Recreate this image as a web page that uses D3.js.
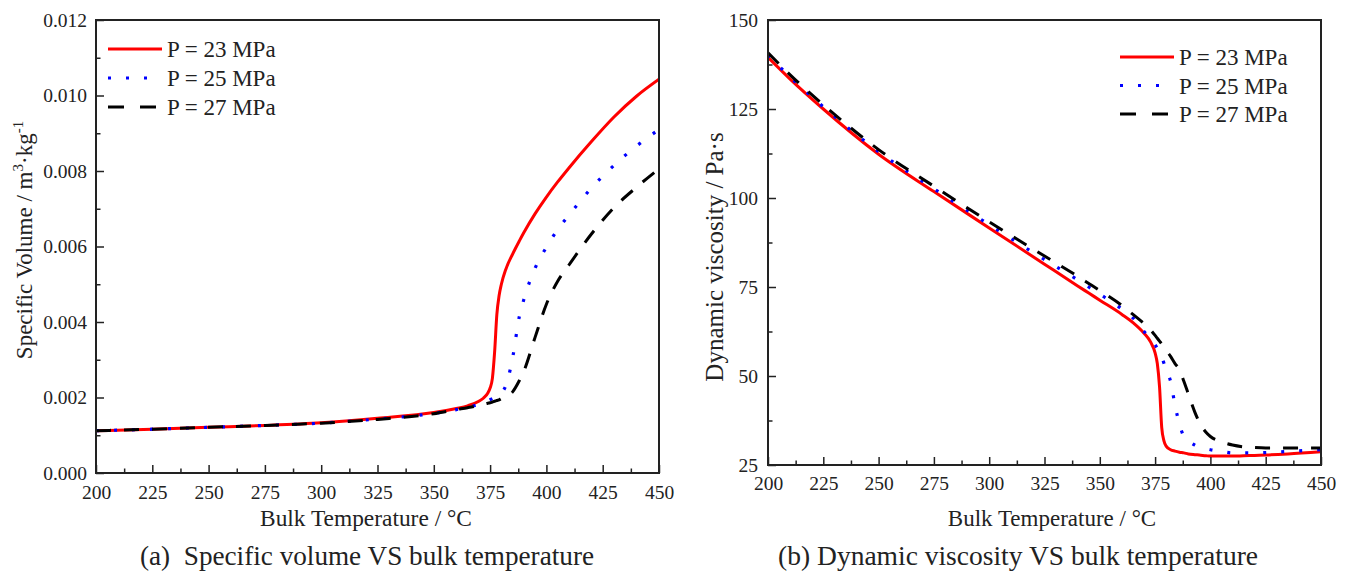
<!DOCTYPE html>
<html>
<head>
<meta charset="utf-8">
<script src="https://cdn.jsdelivr.net/npm/d3@7"></script>
<style>
  html, body { margin: 0; padding: 0; background: #ffffff; }
  svg { display: block; }
  text { font-family: "Liberation Serif", "Times New Roman", serif; fill: #222; }
</style>
</head>
<body>
<svg id="chart" width="1347" height="571"></svg>
<script>
// ---------------- DATA ----------------
const seriesNames = ["P = 23 MPa", "P = 25 MPa", "P = 27 MPa"];
const xTicks = [200, 225, 250, 275, 300, 325, 350, 375, 400, 425, 450];
const volTicks = [0, 0.002, 0.004, 0.006, 0.008, 0.010, 0.012];
const viscTicks = [25, 50, 75, 100, 125, 150];

// (a) specific volume
const tempsA = [200,225,250,275,300,325,350,360,365,370,372,374,375,376,377,378,379,380,382,385,388,390,395,400,405,410,420,430,440,450];
const vol23 = [0.00112,0.00116,0.00121,0.00126,0.00133,0.00145,0.00160,0.00171,0.00178,0.00190,0.00198,0.00212,0.00225,0.00250,0.00320,0.00420,0.00470,0.00500,0.00540,0.00580,0.00615,0.00637,0.00687,0.00731,0.00771,0.00808,0.00878,0.00943,0.00998,0.01043];
const vol25 = [0.00112,0.00116,0.00121,0.00126,0.00132,0.00143,0.00158,0.00168,0.00174,0.00182,0.00186,0.00191,0.00194,0.00197,0.00200,0.00203,0.00207,0.00212,0.00232,0.00305,0.00415,0.00460,0.00543,0.00598,0.00645,0.00683,0.00755,0.00815,0.00866,0.00910];
const vol27 = [0.00112,0.00116,0.00121,0.00126,0.00132,0.00142,0.00157,0.00168,0.00173,0.00179,0.00182,0.00185,0.00186,0.00188,0.00190,0.00192,0.00194,0.00197,0.00202,0.00215,0.00245,0.00270,0.00360,0.00447,0.00508,0.00551,0.00633,0.00703,0.00757,0.00806];

// (b) dynamic viscosity
const tempsB = [200,210,225,250,275,300,325,340,345,350,360,365,370,373,375,376,377,378,379,380,382,384,386,388,390,393,395,398,400,405,410,415,420,425,435,450];
const visc23 = [139.5,133.4,125.0,112.3,101.8,91.6,81.4,75.3,73.3,71.3,67.3,65.0,62.0,59.5,56.5,53.5,47.0,35.5,31.8,30.3,29.3,28.9,28.6,28.4,28.1,27.9,27.8,27.6,27.5,27.5,27.5,27.6,27.7,27.8,28.1,28.7];
const visc25 = [140.2,134.0,125.6,113.0,102.6,92.5,82.7,77.0,75.0,73.0,68.8,66.3,62.5,60.4,58.8,57.8,56.7,55.3,53.6,51.8,48.5,41.8,36.5,33.0,31.8,30.6,30.1,29.6,29.3,28.8,28.4,28.4,28.4,28.5,28.8,29.3];
const visc27 = [140.8,134.6,126.2,113.6,103.3,93.3,83.7,78.0,76.0,74.0,69.8,67.3,64.7,62.9,61.4,60.6,59.8,59.0,58.2,57.2,55.5,53.5,51.8,48.5,45.0,39.8,37.0,34.2,33.0,31.5,30.6,30.1,29.9,29.8,29.8,29.8];

// ---------------- STYLES ----------------
const styles = [
  { color: "#ff0000", dash: null, width: 3 },
  { color: "#0000ff", dash: "3,15", width: 3.2 },
  { color: "#000000", dash: "15,13", width: 3 }
];
const FONT = '"Liberation Serif", "Times New Roman", serif';

const svg = d3.select("#chart");
svg.append("rect").attr("width", 1347).attr("height", 571).attr("fill", "#ffffff");

function panel(opts) {
  const { x0, x1, y0, y1, yDomain, yTicks, yMinor, yFmt, temps, series,
          xPad, yPad, legend } = opts;
  const x = d3.scaleLinear().domain([200, 450]).range([x0, x1]);
  const y = d3.scaleLinear().domain(yDomain).range([y1, y0]);
  const g = svg.append("g");

  const clipId = "clip" + x0;
  svg.append("clipPath").attr("id", clipId)
    .append("rect").attr("x", x0).attr("y", y0).attr("width", x1 - x0).attr("height", y1 - y0);

  // lines
  const line = d3.line().x(d => x(d[0])).y(d => y(d[1])).curve(d3.curveMonotoneX);
  series.forEach((vals, i) => {
    const pts = temps.map((t, k) => [t, vals[k]]);
    const p = g.append("path").datum(pts)
      .attr("d", line)
      .attr("fill", "none")
      .attr("stroke", styles[i].color)
      .attr("stroke-width", styles[i].width)
      .attr("stroke-linejoin", "round")
      .attr("clip-path", `url(#${clipId})`);
    if (styles[i].dash) p.attr("stroke-dasharray", styles[i].dash);
  });

  // minor ticks
  const xMinor = d3.range(212.5, 450, 25);
  g.append("g").attr("transform", `translate(0,${y1})`)
    .call(d3.axisBottom(x).tickValues(xMinor).tickSize(-4.5).tickSizeOuter(0).tickFormat(""))
    .call(a => a.select(".domain").remove())
    .call(a => a.selectAll("line").attr("stroke", "#222").attr("stroke-width", 1.5));
  g.append("g").attr("transform", `translate(${x0},0)`)
    .call(d3.axisLeft(y).tickValues(yMinor).tickSize(-4.5).tickSizeOuter(0).tickFormat(""))
    .call(a => a.select(".domain").remove())
    .call(a => a.selectAll("line").attr("stroke", "#222").attr("stroke-width", 1.5));

  // major ticks + labels
  g.append("g").attr("transform", `translate(0,${y1})`)
    .call(d3.axisBottom(x).tickValues(xTicks).tickSize(-8).tickSizeOuter(0).tickPadding(xPad).tickFormat(d3.format("d")))
    .call(a => a.select(".domain").remove())
    .call(a => a.selectAll("line").attr("stroke", "#222").attr("stroke-width", 1.5))
    .call(a => a.selectAll("text").attr("font-family", FONT).attr("font-size", 19.5).attr("fill", "#222"));
  g.append("g").attr("transform", `translate(${x0},0)`)
    .call(d3.axisLeft(y).tickValues(yTicks).tickSize(-8).tickSizeOuter(0).tickPadding(yPad).tickFormat(yFmt))
    .call(a => a.select(".domain").remove())
    .call(a => a.selectAll("line").attr("stroke", "#222").attr("stroke-width", 1.5))
    .call(a => a.selectAll("text").attr("font-family", FONT).attr("font-size", 19.5).attr("fill", "#222"));

  // frame
  g.append("rect").attr("x", x0).attr("y", y0).attr("width", x1 - x0).attr("height", y1 - y0)
    .attr("fill", "none").attr("stroke", "#222").attr("stroke-width", 2);

  // legend
  seriesNames.forEach((name, i) => {
    const ly = legend.y + i * legend.dy;
    const l = g.append("line").attr("x1", legend.x).attr("x2", legend.x + 54)
      .attr("y1", ly).attr("y2", ly)
      .attr("stroke", styles[i].color).attr("stroke-width", styles[i].width);
    if (styles[i].dash) l.attr("stroke-dasharray", i === 1 ? "3,15" : "16,16");
    g.append("text").attr("x", legend.x + 59).attr("y", ly + 8)
      .attr("font-size", 23).text(name);
  });
  return { x, y, g };
}

// (a)
const A = panel({
  x0: 96, x1: 659, y0: 20, y1: 473,
  yDomain: [0, 0.012], yTicks: volTicks, yMinor: d3.range(0.001, 0.012, 0.002),
  yFmt: d3.format(".3f"), temps: tempsA, series: [vol23, vol25, vol27],
  xPad: 12, yPad: 9, legend: { x: 108, y: 49, dy: 29 }
});
// (b)
const B = panel({
  x0: 768, x1: 1321, y0: 20, y1: 465,
  yDomain: [25, 150], yTicks: viscTicks, yMinor: d3.range(37.5, 150, 25),
  yFmt: d3.format("d"), temps: tempsB, series: [visc23, visc25, visc27],
  xPad: 11, yPad: 10, legend: { x: 1120, y: 57, dy: 28.5 }
});

// axis titles
svg.append("text").attr("x", 366).attr("y", 526).attr("text-anchor", "middle")
  .attr("font-size", 23.4).text("Bulk Temperature / °C");
svg.append("text").attr("x", 1052).attr("y", 526).attr("text-anchor", "middle")
  .attr("font-size", 23).text("Bulk Temperature / °C");

const yt1 = svg.append("text").attr("transform", "translate(32,240) rotate(-90)")
  .attr("text-anchor", "middle").attr("font-size", 23);
yt1.append("tspan").text("Specific Volume / m");
yt1.append("tspan").attr("font-size", 15).attr("dy", -9).text("3");
yt1.append("tspan").attr("dy", 9).text("·kg");
yt1.append("tspan").attr("font-size", 15).attr("dy", -9).text("-1");

svg.append("text").attr("transform", "translate(723,257) rotate(-90)")
  .attr("text-anchor", "middle").attr("font-size", 25).text("Dynamic viscosity / Pa·s");

// captions
svg.append("text").attr("x", 140).attr("y", 565).attr("font-size", 27.2)
  .attr("xml:space", "preserve").text("(a)  Specific volume VS bulk temperature");
svg.append("text").attr("x", 1258).attr("y", 565).attr("text-anchor", "end").attr("font-size", 27.5)
  .text("(b) Dynamic viscosity VS bulk temperature");
</script>
</body>
</html>
